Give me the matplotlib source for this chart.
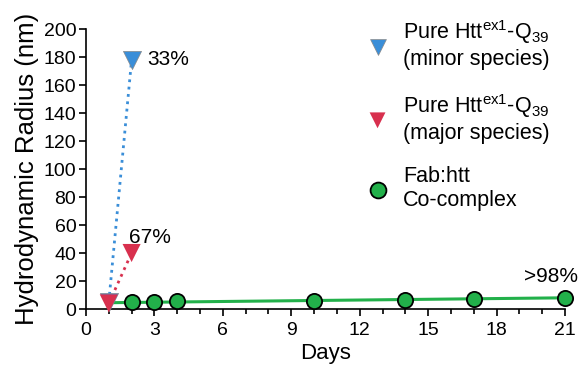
import matplotlib.pyplot as plt
from matplotlib.ticker import MultipleLocator

plt.rcParams['font.family'] = ['Liberation Sans', 'DejaVu Sans']
plt.rcParams['mathtext.fontset'] = 'custom'
plt.rcParams['mathtext.rm'] = 'Liberation Sans'
plt.rcParams['mathtext.it'] = 'Liberation Sans'

# hydrodynamic radius (nm) vs incubation time (days)
minor_days = [1, 2]
minor_radius = [5, 178]
major_days = [1, 2]
major_radius = [4, 40]
fab_days = [2, 3, 4, 10, 14, 17, 21]
fab_radius = [5, 5, 5.5, 6, 6.5, 7, 8]
fit_days = [1, 21]
fit_radius = [4.5, 8]

blue = '#3a8ed8'
red = '#d8304e'
green = '#22b04a'

fig = plt.figure(figsize=(5.79, 3.65), dpi=100)
ax = fig.add_axes([0.1485, 0.1534, 0.9758 - 0.1485, 0.9205 - 0.1534])

ax.plot(minor_days, minor_radius, ls=':', lw=2, color=blue, zorder=2)
ax.plot(major_days, major_radius, ls=':', lw=2, color=red, zorder=2)
ax.plot(fit_days, fit_radius, '-', lw=2.2, color=green, zorder=2)

h1 = ax.scatter(minor_days, minor_radius, marker='v', s=170, color=blue,
                edgecolor='#888888', linewidth=0.5, zorder=3, clip_on=False)
h2 = ax.scatter(major_days, major_radius, marker='v', s=170, color=red,
                edgecolor='none', zorder=4, clip_on=False)
h3 = ax.scatter(fab_days, fab_radius, marker='o', s=120, color=green,
                edgecolor='black', linewidth=1.3, zorder=5, clip_on=False)

ax.text(2.7, minor_radius[1], '33%', fontsize=15, va='center', ha='left')
ax.text(1.9, 51, '67%', fontsize=15, va='center', ha='left')
ax.text(19.2, 23, '>98%', fontsize=15, va='center', ha='left')

ax.set_xlim(0, 21)
ax.set_ylim(0, 200)
ax.xaxis.set_major_locator(MultipleLocator(3))
ax.xaxis.set_minor_locator(MultipleLocator(1))
ax.yaxis.set_major_locator(MultipleLocator(20))
ax.tick_params(axis='both', which='major', labelsize=14, length=5, width=1.2,
               direction='out', pad=2)
ax.tick_params(axis='x', which='major', pad=4)
ax.tick_params(axis='x', which='minor', length=3.5, width=1.2)
for side in ['top', 'right']:
    ax.spines[side].set_visible(False)
for side in ['left', 'bottom']:
    ax.spines[side].set_linewidth(1.2)
ax.set_xlabel('Days', fontsize=16, labelpad=3)
ax.set_ylabel('Hydrodynamic Radius (nm)', fontsize=18.5, labelpad=3)

labels = ['Pure Htt$^{\\rm ex1}$-Q$_{39}$\n(minor species)',
          'Pure Htt$^{\\rm ex1}$-Q$_{39}$\n(major species)',
          'Fab:htt\nCo-complex']
leg = fig.legend([h1, h2, h3], labels, loc='upper left',
                 bbox_to_anchor=(0.6, 1.003), frameon=False, fontsize=15.5,
                 handletextpad=0.7, labelspacing=1.0, handlelength=1.0)
for h in leg.legend_handles:
    h.set_sizes([130])

fig.savefig('out.png', dpi=100)
